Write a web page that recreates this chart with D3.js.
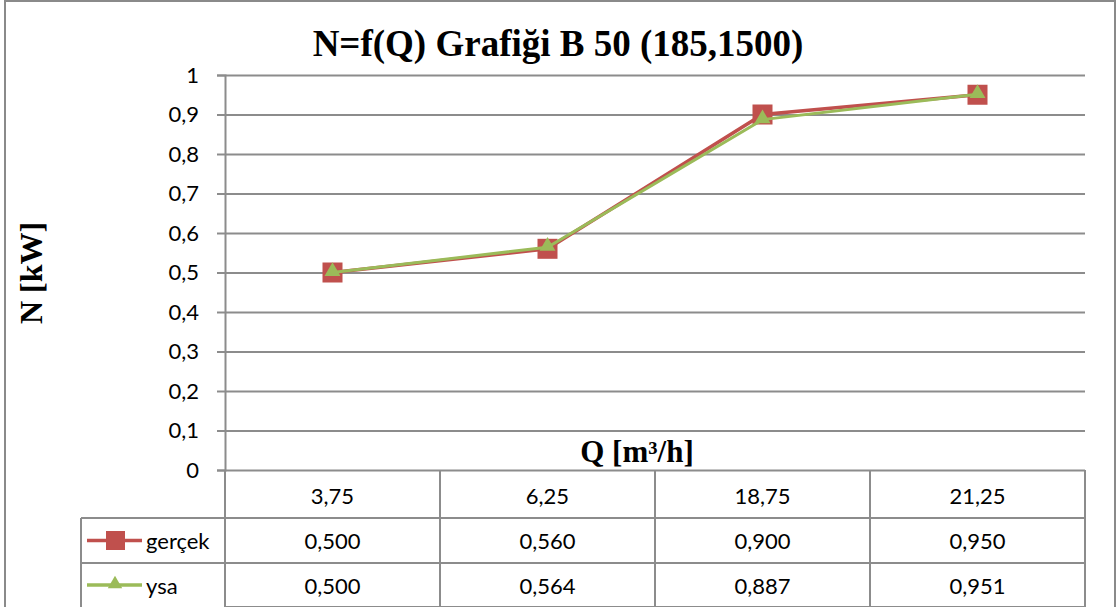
<!DOCTYPE html>
<html>
<head>
<meta charset="utf-8">
<script src="https://cdn.jsdelivr.net/npm/d3@7"></script>
<style>
  body { margin: 0; background: #fff; }
  svg { display: block; }
</style>
</head>
<body>
<div id="chart"></div>
<script>
// chart data
const categories = ["3,75", "6,25", "18,75", "21,25"];
const gercek = [0.500, 0.560, 0.900, 0.950];
const ysa = [0.500, 0.564, 0.887, 0.951];
const yTicks = [0, 0.1, 0.2, 0.3, 0.4, 0.5, 0.6, 0.7, 0.8, 0.9, 1];
const seriesNames = ["gerçek", "ysa"];

const W = 1120, H = 607;
const plot = { left: 225, right: 1085, top: 75, bottom: 470 };
const rowH = [48, 45, 44];
const legendLeft = 81;
const tickFont = "Lato, 'Open Sans', sans-serif";
const serif = "'Liberation Serif', 'Times New Roman', serif";
const gridColor = "#8c8c8c";
const colors = ["#c0504d", "#9bbb59"];

const svg = d3.select("#chart").append("svg")
    .attr("width", W)
    .attr("height", H);

// outer frame
svg.append("rect")
    .attr("x", 5).attr("y", 1)
    .attr("width", 1110).attr("height", H + 10)
    .attr("fill", "#fff")
    .attr("stroke", "#8a8a8a")
    .attr("stroke-width", 2);

const x = d3.scaleBand()
    .domain(categories)
    .range([plot.left, plot.right]);

const y = d3.scaleLinear()
    .domain([0, 1])
    .range([plot.bottom, plot.top]);

// gridlines
svg.append("g")
    .attr("transform", `translate(${plot.left},0)`)
    .call(d3.axisLeft(y).tickValues(yTicks).tickSize(-(plot.right - plot.left)).tickFormat(""))
    .call(g => g.select(".domain").remove())
    .selectAll("line")
    .attr("stroke", gridColor)
    .attr("stroke-width", 2);

// y axis with tick labels
svg.append("g")
    .attr("transform", `translate(${plot.left},0)`)
    .call(d3.axisLeft(y).tickValues(yTicks).tickSize(8).tickPadding(18)
        .tickFormat(d => String(d).replace(".", ",")))
    .call(g => g.select(".domain").attr("stroke", gridColor).attr("stroke-width", 2))
    .call(g => g.selectAll("line").attr("stroke", gridColor).attr("stroke-width", 2))
    .selectAll("text")
    .attr("fill", "#000")
    .style("font-family", tickFont)
    .style("font-size", "22px");

// data table under the plot
const rowY = [plot.bottom, plot.bottom + rowH[0], plot.bottom + rowH[0] + rowH[1], plot.bottom + rowH[0] + rowH[1] + rowH[2]];
const table = svg.append("g")
    .attr("stroke", gridColor)
    .attr("stroke-width", 2);

// horizontal lines
table.append("line").attr("x1", legendLeft).attr("x2", plot.right).attr("y1", rowY[1]).attr("y2", rowY[1]);
table.append("line").attr("x1", legendLeft).attr("x2", plot.right).attr("y1", rowY[2]).attr("y2", rowY[2]);
table.append("line").attr("x1", plot.left).attr("x2", plot.right).attr("y1", rowY[3]).attr("y2", rowY[3]);
// vertical lines
const colEdges = categories.map(c => x(c)).concat([plot.right]);
colEdges.forEach(cx => {
    table.append("line").attr("x1", cx).attr("x2", cx).attr("y1", rowY[0]).attr("y2", H);
});
table.append("line").attr("x1", legendLeft).attr("x2", legendLeft).attr("y1", rowY[1]).attr("y2", H);

const cellText = (tx, ty, txt) => svg.append("text")
    .attr("x", tx).attr("y", ty)
    .attr("text-anchor", "middle")
    .attr("dominant-baseline", "central")
    .style("font-family", tickFont)
    .style("font-size", "22px")
    .text(txt);

categories.forEach((c, i) => {
    const cx = x(c) + x.bandwidth() / 2;
    cellText(cx, (rowY[0] + rowY[1]) / 2 + 1, c);
    cellText(cx, (rowY[1] + rowY[2]) / 2, gercek[i].toFixed(3).replace(".", ","));
    cellText(cx, (rowY[2] + rowY[3]) / 2, ysa[i].toFixed(3).replace(".", ","));
});

// legend keys inside table
seriesNames.forEach((name, i) => {
    const ly = (rowY[i + 1] + rowY[i + 2]) / 2;
    svg.append("line")
        .attr("x1", 87).attr("x2", 142)
        .attr("y1", ly).attr("y2", ly)
        .attr("stroke", colors[i])
        .attr("stroke-width", 3.5);
    if (i === 0) {
        svg.append("rect")
            .attr("x", 106).attr("y", ly - 9.5)
            .attr("width", 19).attr("height", 19)
            .attr("fill", colors[0]);
    } else {
        svg.append("path")
            .attr("d", d3.symbol(d3.symbolTriangle, 90)())
            .attr("transform", `translate(115,${ly - 1})`)
            .attr("fill", colors[1]);
    }
    svg.append("text")
        .attr("x", 146).attr("y", ly)
        .attr("dominant-baseline", "central")
        .style("font-family", tickFont)
        .style("font-size", "22px")
        .text(name);
});

// series lines
const line = d3.line()
    .x((d, i) => x(categories[i]) + x.bandwidth() / 2)
    .y(d => y(d));

svg.append("path")
    .datum(gercek)
    .attr("fill", "none")
    .attr("stroke", colors[0])
    .attr("stroke-width", 3.5)
    .attr("d", line);

svg.selectAll(".sq")
    .data(gercek)
    .enter().append("rect")
    .attr("class", "sq")
    .attr("x", (d, i) => x(categories[i]) + x.bandwidth() / 2 - 10)
    .attr("y", d => y(d) - 10)
    .attr("width", 20).attr("height", 20)
    .attr("fill", colors[0]);

svg.append("path")
    .datum(ysa)
    .attr("fill", "none")
    .attr("stroke", colors[1])
    .attr("stroke-width", 3)
    .attr("d", line);

svg.selectAll(".tri")
    .data(ysa)
    .enter().append("path")
    .attr("class", "tri")
    .attr("d", d3.symbol(d3.symbolTriangle, 110)())
    .attr("transform", (d, i) => `translate(${x(categories[i]) + x.bandwidth() / 2},${y(d) - 1})`)
    .attr("fill", colors[1]);

// titles
svg.append("text")
    .attr("x", 558).attr("y", 56)
    .attr("text-anchor", "middle")
    .style("font-family", serif)
    .style("font-weight", "bold")
    .style("font-size", "37px")
    .text("N=f(Q) Grafiği B 50 (185,1500)");

svg.append("text")
    .attr("x", 637).attr("y", 462)
    .attr("text-anchor", "middle")
    .style("font-family", serif)
    .style("font-weight", "bold")
    .style("font-size", "31px")
    .text("Q [m³/h]");

svg.append("text")
    .attr("transform", "translate(42,273) rotate(-90)")
    .attr("text-anchor", "middle")
    .style("font-family", serif)
    .style("font-weight", "bold")
    .style("font-size", "32px")
    .text("N [kW]");
</script>
</body>
</html>
